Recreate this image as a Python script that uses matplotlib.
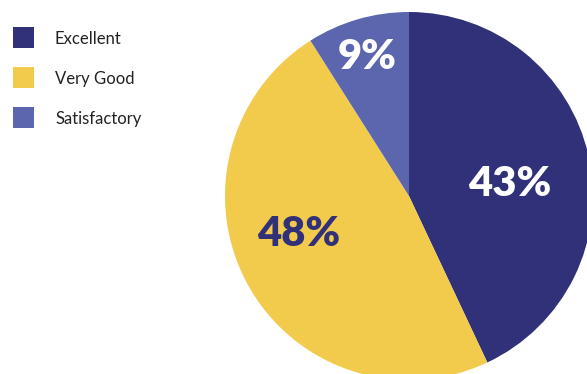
import matplotlib
matplotlib.use("Agg")
import matplotlib.pyplot as plt
from matplotlib.patches import Rectangle

# ratings share
categories = ["Excellent", "Very Good", "Satisfactory"]
shares = [43, 48, 9]
colors = ["#303178", "#F3CB4C", "#5B66AE"]
label_colors = ["white", "#303178", "white"]
# label offsets from pie centre, in pixels (x right, y up)
label_offsets = [(101, 12), (-110, -38), (-42, 139)]

W, H = 587, 374
cx, cy, r = 409, H - 196, 184

fig = plt.figure(figsize=(W / 100, H / 100), dpi=100)
ax = fig.add_axes([0, 0, 1, 1])
ax.pie(shares, colors=colors, center=(cx, cy), radius=r,
       startangle=90, counterclock=False,
       wedgeprops=dict(linewidth=0))
ax.set_xlim(0, W)
ax.set_ylim(0, H)
ax.set_aspect("equal")
ax.axis("off")

for v, c, (dx, dy) in zip(shares, label_colors, label_offsets):
    ax.text(cx + dx, cy + dy, f"{v}%", color=c, fontsize=30,
            fontweight="heavy", family="Lato", ha="center", va="center")

# legend
for i, (name, col) in enumerate(zip(categories, colors)):
    yc = H - (37 + 40 * i)
    ax.add_patch(Rectangle((13, yc - 10.5), 21, 21, color=col, lw=0))
    ax.text(55, yc, name, fontsize=12, family="Lato", color="#222222",
            ha="left", va="center_baseline")

fig.savefig("out.png", dpi=100)
